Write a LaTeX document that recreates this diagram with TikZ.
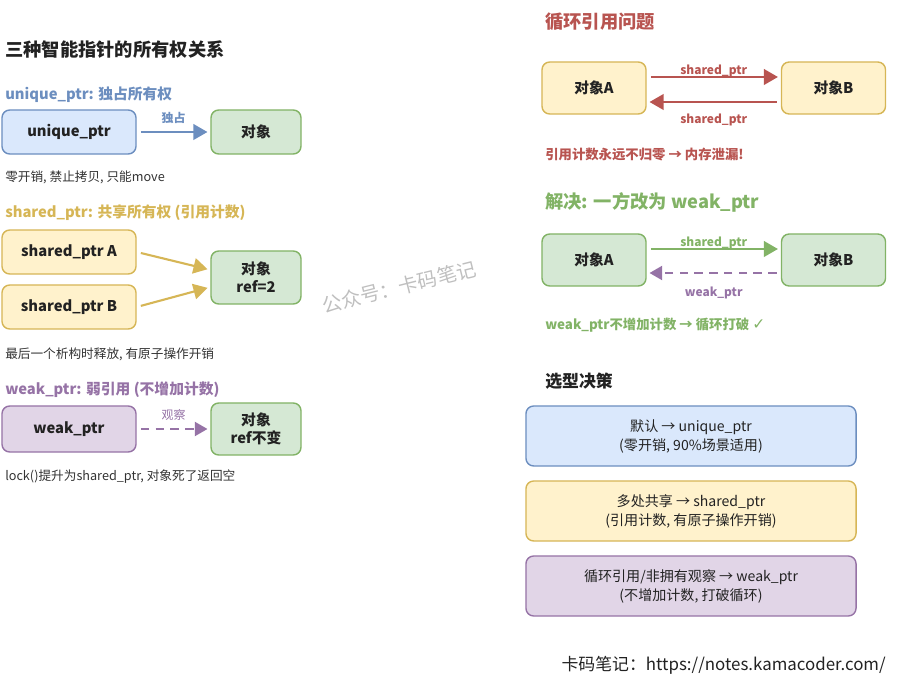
\documentclass[tikz,border=0pt]{standalone}
\usepackage{fontspec}
\setmainfont{Noto Sans CJK SC}
\newfontfamily\symfont{DejaVu Sans}
\usepackage{xcolor}
\usepackage{tikz}
\usetikzlibrary{arrows.meta}
\definecolor{inkdark}{HTML}{222222}
\definecolor{inkgray}{HTML}{333333}
\definecolor{ublue}{HTML}{6C8EBF}
\definecolor{ubluelight}{HTML}{DAE8FC}
\definecolor{syellow}{HTML}{D6B656}
\definecolor{syellowlight}{HTML}{FFF2CC}
\definecolor{wpurple}{HTML}{9673A6}
\definecolor{wpurplelight}{HTML}{E1D5E7}
\definecolor{okgreen}{HTML}{82B366}
\definecolor{okgreenlight}{HTML}{D5E8D4}
\definecolor{cred}{HTML}{B85450}

\begin{document}
\begin{tikzpicture}[
  x=0.025cm, y=-0.025cm,
  box/.style={rounded corners=5.5pt, line width=1pt, align=center,
    font=\bfseries\fontsize{10.5}{12.8}\selectfont, text=inkdark},
  ptrbox/.style={box, minimum width=3.35cm, minimum height=1.1cm},
  objbox/.style={box, draw=okgreen, fill=okgreenlight, minimum width=2.25cm},
  pairbox/.style={box, minimum width=2.6cm, minimum height=1.3cm},
  pickbox/.style={box, font=\fontsize{10}{13.5}\selectfont,
    minimum width=8.25cm, minimum height=1.5cm},
  title/.style={anchor=west, inner sep=0pt, text=inkdark,
    font=\bfseries\fontsize{13}{15}\selectfont},
  head/.style={anchor=west, inner sep=0pt,
    font=\bfseries\fontsize{10.5}{13}\selectfont},
  alert/.style={anchor=west, inner sep=0pt,
    font=\bfseries\fontsize{9.5}{11}\selectfont},
  note/.style={anchor=west, inner sep=0pt, text=inkgray,
    font=\fontsize{9}{11}\selectfont},
  lbl/.style={inner sep=0pt, font=\bfseries\fontsize{8.5}{10}\selectfont},
  arr/.style={-{Triangle[length=10pt, width=11pt]}, line width=1.8pt,
    shorten <=3pt, shorten >=2pt},
  darr/.style={-{Triangle[length=9pt, width=10pt]}, line width=1.4pt,
    dash pattern=on 6pt off 4.5pt, shorten <=3pt, shorten >=2pt},
]
  \useasboundingbox (0,0) rectangle (904,695);

  % Left: ownership
  \node[title] (maintitle) at (5,50) {三种智能指针的所有权关系};

  \node[head, text=ublue] (uhead) at (5,95) {unique\_ptr: 独占所有权};
  \node[ptrbox, draw=ublue, fill=ubluelight] (uptr) at (69,132) {unique\_ptr};
  \node[objbox, minimum height=1.1cm] (uobj) at (256,132) {对象};
  \draw[arr, ublue] (uptr) -- (uobj)
    node[lbl, midway, yshift=0.35cm, text=ublue] {独占};
  \node[note] (unote) at (5,177) {零开销, 禁止拷贝, 只能move};

  \node[head, text=syellow] (shead) at (5,213)
    {shared\_ptr: 共享所有权 (引用计数)};
  \node[ptrbox, draw=syellow, fill=syellowlight] (sA) at (69,252) {shared\_ptr A};
  \node[ptrbox, draw=syellow, fill=syellowlight] (sB) at (69,307) {shared\_ptr B};
  \node[objbox, minimum height=1.325cm] (sobj) at (256,277.5) {对象\\ref=2};
  \draw[arr, syellow, line width=1.5pt] (sA.east) -- ([yshift=0.19cm]sobj.west);
  \draw[arr, syellow, line width=1.5pt] (sB.east) -- ([yshift=-0.24cm]sobj.west);
  \node[note] (snote) at (5,354) {最后一个析构时释放, 有原子操作开销};

  \node[head, text=wpurple] (whead) at (5,390) {weak\_ptr: 弱引用 (不增加计数)};
  \node[ptrbox, draw=wpurple, fill=wpurplelight, minimum height=1.15cm] (wptr)
    at (69,429) {weak\_ptr};
  \node[objbox, minimum height=1.3cm] (wobj) at (256,429) {对象\\ref不变};
  \draw[darr, wpurple] (wptr) -- (wobj)
    node[lbl, midway, yshift=0.35cm, font=\fontsize{8.5}{10}\selectfont] {观察};
  \node[note] (wnote) at (5,477) {lock()提升为shared\_ptr, 对象死了返回空};

  % Right: cycle problem
  \node[title, text=cred] (ctitle) at (545,22) {循环引用问题};
  \node[pairbox, draw=syellow, fill=syellowlight] (cA) at (594,88) {对象A};
  \node[pairbox, draw=syellow, fill=syellowlight] (cB) at (833.5,88) {对象B};
  \draw[arr, cred] ([yshift=0.275cm]cA.east) -- ([yshift=0.275cm]cB.west)
    node[lbl, midway, yshift=0.15cm, text=cred] {shared\_ptr};
  \draw[arr, cred] ([yshift=-0.35cm]cB.west) -- ([yshift=-0.35cm]cA.east)
    node[lbl, midway, yshift=-0.45cm, text=cred] {shared\_ptr};
  \node[alert, text=cred] (cnote) at (545,155) {引用计数永远不归零 → 内存泄漏!};

  % Right: fix
  \node[title, text=okgreen] (ftitle) at (545,202) {解决: 一方改为 weak\_ptr};
  \node[pairbox, draw=okgreen, fill=okgreenlight] (fA) at (594,260) {对象A};
  \node[pairbox, draw=okgreen, fill=okgreenlight] (fB) at (833.5,260) {对象B};
  \draw[arr, okgreen] ([yshift=0.275cm]fA.east) -- ([yshift=0.275cm]fB.west)
    node[lbl, midway, yshift=0.15cm, text=okgreen] {shared\_ptr};
  \draw[darr, wpurple] ([yshift=-0.325cm]fB.west) -- ([yshift=-0.325cm]fA.east)
    node[lbl, midway, yshift=-0.5cm, text=wpurple] {weak\_ptr};
  \node[alert, text=okgreen] (fnote) at (545,325)
    {weak\_ptr不增加计数 → 循环打破 {\symfont\bfseries\fontsize{11}{11}\selectfont ✓}};

  % Right: choice
  \node[title, font=\bfseries\fontsize{12}{14}\selectfont] (ptitle) at (545,381) {选型决策};
  \node[pickbox, draw=ublue, fill=ubluelight] (pick1) at (691,436)
    {默认 → unique\_ptr\\(零开销, 90\%场景适用)};
  \node[pickbox, draw=syellow, fill=syellowlight] (pick2) at (691,511)
    {多处共享 → shared\_ptr\\(引用计数, 有原子操作开销)};
  \node[pickbox, draw=wpurple, fill=wpurplelight] (pick3) at (691,586)
    {循环引用/非拥有观察 → weak\_ptr\\(不增加计数, 打破循环)};

  % Watermark and footer
  \node[rotate=14, text=gray!50, font=\fontsize{14}{16}\selectfont] (mark)
    at (399,287) {公众号：卡码笔记};
  \node[anchor=east, inner sep=0pt, text=inkdark, font=\fontsize{12}{14}\selectfont]
    (footer) at (886,665) {卡码笔记：https://notes.kamacoder.com/};
\end{tikzpicture}
\end{document}
